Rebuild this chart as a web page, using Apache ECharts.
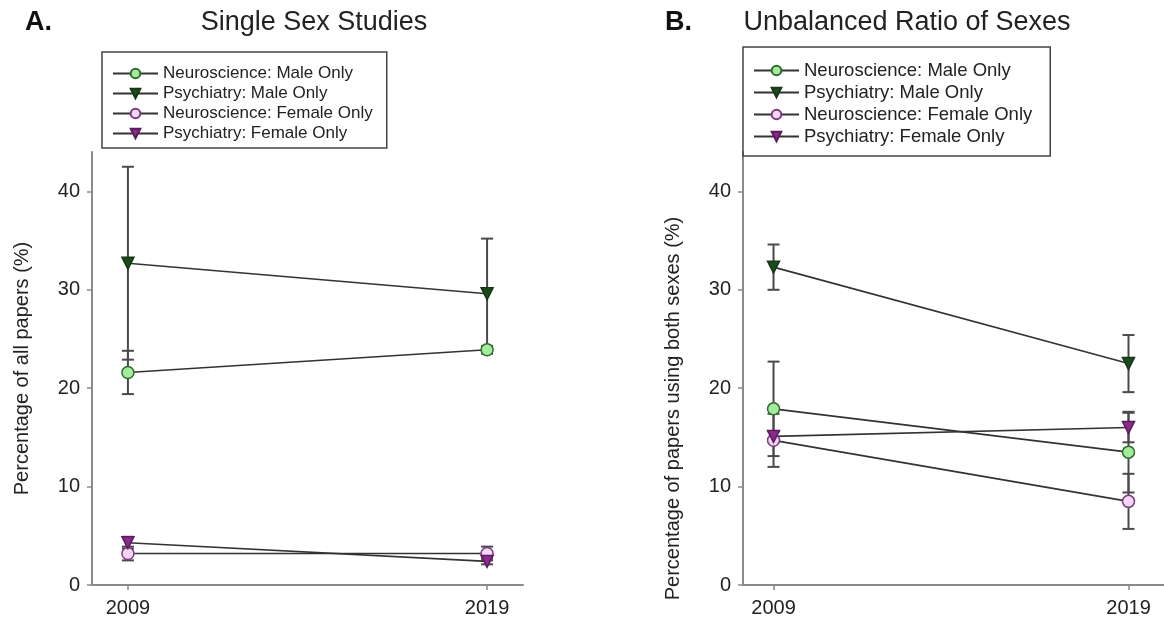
<!DOCTYPE html>
<html><head><meta charset="utf-8">
<script src="https://cdn.jsdelivr.net/npm/echarts@6/dist/echarts.min.js"></script>
<style>html,body{margin:0;padding:0;background:#fff}#c{width:1164px;height:627px}</style>
</head><body><div id="c"></div>
<script>
// ---- data ----
const years = [2009, 2019];
const xTickValues = [2009, 2019];
const yTickValues = [0, 10, 20, 30, 40];
const seriesNames = ['Neuroscience: Male Only', 'Psychiatry: Male Only', 'Neuroscience: Female Only', 'Psychiatry: Female Only'];

// Panel A: Single Sex Studies (mean, error)
const aNeuroMale = [21.6, 23.9];
const aNeuroMaleErr = [2.2, 0.4];
const aPsychMale = [32.7, 29.6];
const aPsychMaleErr = [9.8, 5.6];
const aNeuroFemale = [3.2, 3.2];
const aNeuroFemaleErr = [0.7, 0.7];
const aPsychFemale = [4.3, 2.4];
const aPsychFemaleErr = [0.6, 0.3];

// Panel B: Unbalanced Ratio of Sexes (mean, error)
const bNeuroMale = [17.9, 13.5];
const bNeuroMaleErr = [4.8, 4.1];
const bPsychMale = [32.3, 22.5];
const bPsychMaleErr = [2.3, 2.9];
const bNeuroFemale = [14.7, 8.5];
const bNeuroFemaleErr = [2.7, 2.8];
const bPsychFemale = [15.1, 16.0];
const bPsychFemaleErr = [0.5, 1.5];

// ---- styles ----
const FONT = 'Liberation Sans, Arial, sans-serif';
const markerStyles = [
  {symbol: 'circle', rotate: 0, fill: '#a2ec9c', border: '#2f6b2f'},
  {symbol: 'triangle', rotate: 180, fill: '#1d4a1d', border: '#163816'},
  {symbol: 'circle', rotate: 0, fill: '#f3d6f3', border: '#7d3a7d'},
  {symbol: 'triangle', rotate: 180, fill: '#8a2a8a', border: '#5e1a5e'}
];

const panelA = [[aNeuroMale, aNeuroMaleErr], [aPsychMale, aPsychMaleErr], [aNeuroFemale, aNeuroFemaleErr], [aPsychFemale, aPsychFemaleErr]];
const panelB = [[bNeuroMale, bNeuroMaleErr], [bPsychMale, bPsychMaleErr], [bNeuroFemale, bNeuroFemaleErr], [bPsychFemale, bPsychFemaleErr]];

function errRender(params, api) {
  const x = api.value(0), lo = api.value(1), hi = api.value(2);
  const pLo = api.coord([x, lo]);
  const pHi = api.coord([x, hi]);
  const w = 6;
  const st = {stroke: '#4a4a4a', lineWidth: 2};
  return {type: 'group', children: [
    {type: 'line', shape: {x1: pLo[0], y1: pLo[1], x2: pHi[0], y2: pHi[1]}, style: st},
    {type: 'line', shape: {x1: pLo[0] - w, y1: pLo[1], x2: pLo[0] + w, y2: pLo[1]}, style: st},
    {type: 'line', shape: {x1: pHi[0] - w, y1: pHi[1], x2: pHi[0] + w, y2: pHi[1]}, style: st}
  ]};
}

const series = [];
[panelA, panelB].forEach((panel, pi) => {
  panel.forEach(([vals, errs], si) => {
    series.push({
      type: 'custom', name: 'err' + pi + si, xAxisIndex: pi, yAxisIndex: pi, z: 2,
      renderItem: errRender, silent: true,
      data: years.map((yr, i) => [yr, vals[i] - errs[i], vals[i] + errs[i]])
    });
  });
  panel.forEach(([vals, errs], si) => {
    const m = markerStyles[si];
    series.push({
      type: 'line', name: seriesNames[si], xAxisIndex: pi, yAxisIndex: pi, z: 3,
      symbol: m.symbol, symbolRotate: m.rotate, symbolSize: 12, showAllSymbol: true,
      lineStyle: {color: '#333', width: 1.6},
      itemStyle: {color: m.fill, borderColor: m.border, borderWidth: 1.5},
      data: years.map((yr, i) => [yr, vals[i]])
    });
  });
});

function xAxisCfg(idx, min, max) {
  return {
    type: 'value', gridIndex: idx, min: min, max: max,
    splitLine: {show: false},
    axisLine: {lineStyle: {color: '#8a8a8a', width: 2}},
    axisTick: {customValues: xTickValues, length: 5, lineStyle: {color: '#8a8a8a', width: 1.5}},
    axisLabel: {customValues: xTickValues, formatter: v => String(v), fontSize: 20, color: '#222', fontFamily: FONT, margin: 13}
  };
}
function yAxisCfg(idx, name, pad) {
  return {
    type: 'value', gridIndex: idx, min: 0, max: 44,
    name: name, nameLocation: 'middle', nameGap: 60,
    nameTextStyle: {fontSize: 20, color: '#222', fontFamily: FONT, padding: pad},
    splitLine: {show: false},
    axisLine: {show: true, lineStyle: {color: '#8a8a8a', width: 2}},
    axisTick: {show: true, customValues: yTickValues, length: 5, lineStyle: {color: '#8a8a8a', width: 1.5}},
    axisLabel: {customValues: yTickValues, fontSize: 20, color: '#222', fontFamily: FONT, margin: 12}
  };
}
function legendCfg(left, top, fontSize, pad) {
  return {
    left: left, top: top, orient: 'vertical', data: seriesNames,
    itemWidth: 45, itemHeight: 12, itemGap: 3, padding: pad,
    borderColor: '#444', borderWidth: 1.5, selectedMode: false,
    textStyle: {fontSize: fontSize, color: '#222', fontFamily: FONT, lineHeight: fontSize}
  };
}

const option = {
  backgroundColor: '#fff',
  animation: false,
  title: [
    {text: 'A.', left: 20, top: 4, textStyle: {fontSize: 27, fontWeight: 'bold', color: '#111', fontFamily: FONT}},
    {text: 'Single Sex Studies', left: 309, top: 4, textAlign: 'center', textStyle: {fontSize: 27, fontWeight: 'normal', color: '#222', fontFamily: FONT}},
    {text: 'B.', left: 660, top: 4, textStyle: {fontSize: 27, fontWeight: 'bold', color: '#111', fontFamily: FONT}},
    {text: 'Unbalanced Ratio of Sexes', left: 902, top: 4, textAlign: 'center', textStyle: {fontSize: 27, fontWeight: 'normal', color: '#222', fontFamily: FONT}}
  ],
  legend: [
    legendCfg(102, 52, 17, [13, 14, 6, 10]),
    legendCfg(743, 47, 18.5, [14, 18, 10, 10])
  ],
  grid: [
    {left: 92, top: 152, width: 431, height: 433},
    {left: 743, top: 152, width: 429, height: 433}
  ],
  xAxis: [xAxisCfg(0, 2008, 2020), xAxisCfg(1, 2008.14, 2020)],
  yAxis: [
    yAxisCfg(0, 'Percentage of all papers (%)', [0, 0, 0, 0]),
    yAxisCfg(1, 'Percentage of papers using both sexes (%)', [0, 80, 0, 0])
  ],
  series: series
};
const chart = echarts.init(document.getElementById('c'), null, {renderer: 'canvas'});
chart.setOption(option);
</script></body></html>
